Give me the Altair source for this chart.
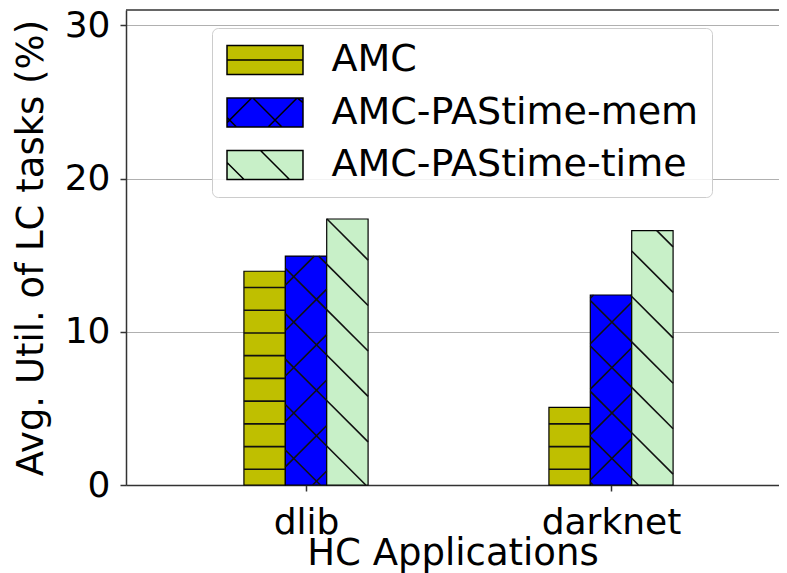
import json
import math
import altair as alt
import pandas as pd

# ---- data ----
categories = ["dlib", "darknet"]
series = ["AMC", "AMC-PAStime-mem", "AMC-PAStime-time"]
amc = [13.95, 5.06]
amc_mem = [14.94, 12.40]
amc_time = [17.36, 16.60]
y_ticks = [0, 10, 20, 30]
colors = ["#bfbf00", "#0000ff", "#c8f0c8"]
hatches = ["h", "cross", "back"]

values_by_series = [amc, amc_mem, amc_time]

# ---- layout ----
W, H = 653, 475
Y_MAX = 31
X_MIN, X_MAX = -0.5902, 1.5508
BAR_W = 0.1357
PX_X = W / (X_MAX - X_MIN)
PX_Y = H / Y_MAX
STEP = 45.45  # hatch spacing in px

FONT = "DejaVu Sans"

rows = []
for gi, cat in enumerate(categories):
    for si, s in enumerate(series):
        x0 = gi + (si - 1.5) * BAR_W
        rows.append(dict(category=cat, series=s, x0=x0, x1=x0 + BAR_W,
                         xc=x0 + BAR_W / 2, value=values_by_series[si][gi],
                         hatch=hatches[si]))
bars = pd.DataFrame(rows)


def hatch_segments(r):
    u0, u1 = r.x0 * PX_X, r.x1 * PX_X
    vtop = r.value * PX_Y
    segs = []
    if r.hatch == "h":
        c = 15.7
        while c < vtop:
            segs.append((u0, c, u1, c))
            c += STEP / 2
    if r.hatch in ("back", "cross"):
        c0 = 287.0
        for k in range(math.floor((u0 - c0) / STEP) - 1, math.ceil((u1 + vtop - c0) / STEP) + 2):
            c = c0 + k * STEP
            lo, hi = max(u0, c - vtop), min(u1, c)
            if hi - lo > 0.5:
                segs.append((lo, c - lo, hi, c - hi))
    if r.hatch == "cross":
        c0 = 38.8
        for k in range(math.floor((-u1 - c0) / STEP) - 1, math.ceil((vtop - u0 - c0) / STEP) + 2):
            c = c0 + k * STEP
            lo, hi = max(u0, -c), min(u1, vtop - c)
            if hi - lo > 0.5:
                segs.append((lo, c + lo, hi, c + hi))
    return [dict(x=a / PX_X, y=b / PX_Y, x2=cc / PX_X, y2=d / PX_Y) for a, b, cc, d in segs]


hatch_rows = []
for r in bars.itertuples():
    hatch_rows.extend(hatch_segments(r))
hatch_df = pd.DataFrame(hatch_rows)

RECT = "M-2.62,-1H2.62V1H-2.62Z"
legend_paths = [
    RECT + " M-2.62,0H2.62",
    RECT + " M-2.62,0.345L-1.966,1 M-0.831,-1L1.169,1 M2.234,-1L2.62,-0.683"
           " M0.214,1L2.214,-1 M-2.62,0.7L-0.921,-1",
    RECT + " M-2.62,-0.176L-1.445,1 M-0.31,-1L1.69,1",
]

label_expr = f"{json.dumps(categories)}[datum.value]"

x_scale = alt.Scale(domain=[X_MIN, X_MAX], nice=False, zero=False)
y_scale = alt.Scale(domain=[0, Y_MAX], nice=False)

x_axis = alt.Axis(values=[0, 1], labelExpr=label_expr, grid=False, tickSize=6,
                  labelPadding=14, labelFontSize=36, titleFontSize=37,
                  labelFont=FONT, titleFont=FONT, titleFontWeight="normal",
                  labelColor="black", titleColor="black", domainColor="#333",
                  domainWidth=1.5, tickColor="#333", tickWidth=1.5,
                  titlePadding=-5, labelOverlap=False)
y_axis = alt.Axis(values=y_ticks, grid=True, gridColor="#b0b0b0", gridWidth=1,
                  tickSize=6, labelPadding=10, labelFontSize=36, titleFontSize=37,
                  labelFont=FONT, titleFont=FONT, titleFontWeight="normal",
                  labelColor="black", titleColor="black", domainColor="#333",
                  domainWidth=1.5, tickColor="#333", tickWidth=1.5,
                  titlePadding=14)

legend = alt.Legend(title=None, orient="none", legendX=86, legendY=18,
                    padding=13, labelFontSize=38, labelFont=FONT, labelColor="black",
                    labelOffset=47.5, labelLimit=600, symbolOffset=21,
                    symbolSize=29 * 29, symbolStrokeColor="black",
                    symbolStrokeWidth=1.5, symbolOpacity=1, rowPadding=14.5,
                    fillColor="rgba(255,255,255,0.85)", strokeColor="#cccccc",
                    cornerRadius=6)

fill_scale = alt.Scale(domain=series, range=colors)

bar_layer = alt.Chart(bars).mark_rect(stroke="black", strokeWidth=1.2).encode(
    x=alt.X("x0:Q", scale=x_scale, axis=x_axis, title="HC Applications"),
    x2="x1:Q",
    y=alt.Y("value:Q", scale=y_scale, axis=y_axis, title="Avg. Util. of LC tasks (%)"),
    y2=alt.datum(0),
    fill=alt.Fill("series:N", scale=fill_scale),
)

hatch_layer = alt.Chart(hatch_df).mark_rule(color="#111111", strokeWidth=1.6).encode(
    x="x:Q", x2="x2:Q", y="y:Q", y2="y2:Q"
)

legend_layer = alt.Chart(bars).mark_point(filled=True, opacity=0, stroke="black").encode(
    x="xc:Q",
    y="value:Q",
    fill=alt.Fill("series:N", scale=fill_scale, legend=legend),
    shape=alt.Shape("series:N", scale=alt.Scale(domain=series, range=legend_paths), legend=legend),
)

top_spine = alt.Chart(pd.DataFrame({"top": [Y_MAX]})).mark_rule(
    color="#333", strokeWidth=1.5).encode(y="top:Q")

chart = alt.layer(bar_layer, hatch_layer, legend_layer, top_spine).properties(
    width=W, height=H,
    autosize=alt.AutoSizeParams(type="none"),
    padding={"left": 118, "top": 2, "right": 0, "bottom": 88},
    background="white",
).configure_view(stroke=None)

chart.save("out.html", embed_options={"renderer": "svg", "actions": False})
